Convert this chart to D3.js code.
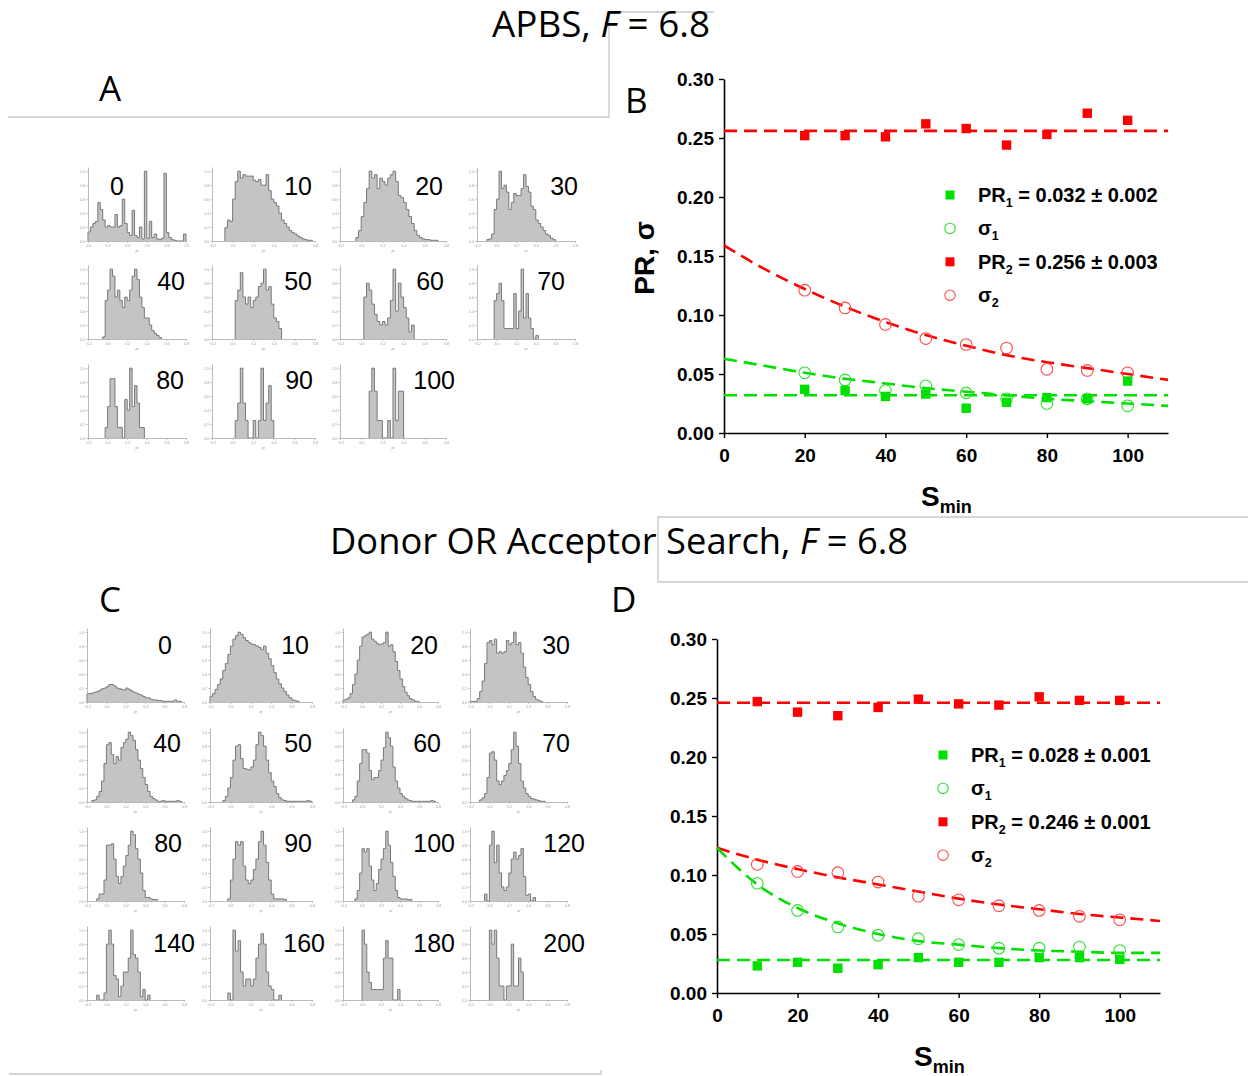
<!DOCTYPE html>
<html>
<head>
<meta charset="utf-8">
<script src="https://cdn.jsdelivr.net/npm/d3@7"></script>
<style>
  body { margin: 0; background: #fff; }
  svg { display: block; }
  .tick text { font-family: "Liberation Sans", Arial, sans-serif; }
</style>
</head>
<body>
<script>
// ---- panel B (APBS) ----
const sB = [20, 30, 40, 50, 60, 70, 80, 90, 100]
const pr1B = [0.037, 0.036, 0.031, 0.033, 0.021, 0.026, 0.030, 0.029, 0.044]
const sig1B = [0.051, 0.045, 0.036, 0.040, 0.034, 0.029, 0.025, 0.029, 0.023]
const pr2B = [0.252, 0.252, 0.251, 0.262, 0.258, 0.244, 0.253, 0.271, 0.265]
const sig2B = [0.121, 0.106, 0.092, 0.080, 0.075, 0.072, 0.054, 0.053, 0.051]
const fitS = [0, 10, 20, 30, 40, 50, 60, 70, 80, 90, 100, 110]
const fit1B = [0.063, 0.057, 0.051, 0.046, 0.042, 0.038, 0.035, 0.032, 0.029, 0.027, 0.025, 0.023]
const fit2B = [0.159, 0.139, 0.122, 0.107, 0.094, 0.083, 0.074, 0.066, 0.060, 0.055, 0.050, 0.045]
const levelsB = [0.032, 0.256]
const legendB = [["PR", "1", " = 0.032 \u00b1 0.002"], ["\u03c3", "1", ""], ["PR", "2", " = 0.256 \u00b1 0.003"], ["\u03c3", "2", ""]]

// ---- panel D (Donor OR Acceptor) ----
const sD = [10, 20, 30, 40, 50, 60, 70, 80, 90, 100]
const pr1D = [0.023, 0.026, 0.021, 0.024, 0.030, 0.026, 0.026, 0.030, 0.030, 0.0285]
const sig1D = [0.093, 0.070, 0.056, 0.049, 0.046, 0.041, 0.038, 0.038, 0.039, 0.036]
const pr2D = [0.247, 0.238, 0.235, 0.242, 0.249, 0.245, 0.244, 0.251, 0.248, 0.248]
const sig2D = [0.109, 0.103, 0.102, 0.094, 0.082, 0.079, 0.074, 0.070, 0.065, 0.062]
const fit1D = [0.123, 0.092, 0.072, 0.059, 0.050, 0.044, 0.041, 0.038, 0.036, 0.035, 0.034, 0.034]
const fit2D = [0.123, 0.113, 0.105, 0.098, 0.092, 0.086, 0.080, 0.075, 0.071, 0.067, 0.064, 0.061]
const levelsD = [0.028, 0.246]
const legendD = [["PR", "1", " = 0.028 \u00b1 0.001"], ["\u03c3", "1", ""], ["PR", "2", " = 0.246 \u00b1 0.001"], ["\u03c3", "2", ""]]

const sTicks = [0, 20, 40, 60, 80, 100]
const prTicks = [0, 0.05, 0.10, 0.15, 0.20, 0.25, 0.30]

// ---- histograms, 40 bins over the pr axis, normalised to 1 ----
const labelsA = ["0", "10", "20", "30", "40", "50", "60", "70", "80", "90", "100"]
const startA = [0, 5, 6, 4, 6, 9, 9, 7, 7, 9, 11]
const hA0 = [0.13, 0.2, 0.25, 0.28, 0.55, 0.45, 0.3, 0.2, 0.22, 0.2, 0.2, 0.38, 0.2, 0.22, 0.6, 0.25, 0.12, 0.08, 0.44, 0.08, 0.05, 0.2, 0.03, 1.0, 0.04, 0.28, 0.05, 0.1, 0.03, 0.02, 0.04, 0.97, 0.12, 0.05, 0.02, 0.01, 0, 0, 0, 0.1]
const hA10 = [0.19, 0.3, 0.28, 0.6, 0.85, 1.0, 0.9, 0.95, 0.93, 0.93, 0.93, 0.87, 0.85, 0.88, 0.8, 0.8, 0.95, 0.72, 0.6, 0.55, 0.5, 0.4, 0.3, 0.25, 0.2, 0.15, 0.12, 0.1, 0.07, 0.05, 0.03, 0.02, 0.01, 0.01]
const hA20 = [0.05, 0.15, 0.35, 0.55, 0.75, 1.0, 0.9, 0.95, 0.75, 0.9, 0.85, 0.8, 0.9, 0.95, 1.0, 0.85, 0.65, 0.62, 0.55, 0.45, 0.35, 0.25, 0.15, 0.08, 0.05, 0.03, 0.02, 0.02, 0.01, 0.01, 0.01]
const hA30 = [0.02, 0.03, 0.1, 0.45, 0.6, 1.0, 0.75, 0.8, 0.7, 0.45, 0.55, 0.68, 0.65, 0.65, 0.75, 0.95, 0.78, 0.7, 0.5, 0.45, 0.3, 0.25, 0.2, 0.15, 0.1, 0.08, 0.04, 0.02]
const hA40 = [0.03, 0.55, 0.7, 1.0, 0.9, 0.6, 0.7, 0.55, 0.45, 0.6, 0.55, 0.7, 0.9, 1.0, 0.85, 0.6, 0.45, 0.3, 0.3, 0.2, 0.12, 0.08, 0.05, 0.02]
const hA50 = [0.55, 0.7, 0.95, 0.6, 0.5, 0.6, 0.45, 0.55, 0.6, 0.75, 0.8, 1.0, 0.7, 0.75, 0.5, 0.3, 0.25, 0.15]
const hA60 = [0.6, 0.8, 0.7, 0.5, 0.35, 0.25, 0.2, 0.25, 0.2, 0.3, 0.55, 1.0, 0.4, 0.8, 0.6, 0.45, 0.3, 0.1, 0.2]
const hA70 = [0.55, 0.65, 0.8, 0.55, 0.15, 0.15, 0.15, 0.15, 0.65, 0.15, 0.4, 1.0, 0.3, 0.65, 0.3, 0.15, 0, 0.05]
const hA80 = [0.15, 0.45, 0.85, 0.85, 0.45, 0.15, 0.15, 0, 0.55, 0.4, 1.0, 0.45, 0.75, 0.5, 0.15, 0.15]
const hA90 = [0.25, 0.5, 1.0, 0.5, 0.25, 0, 0, 0.25, 0, 0.25, 1.0, 0.25, 0.5, 0.75, 0.25]
const hA100 = [0.67, 1.0, 0.67, 0.25, 0.25, 0, 0, 0.25, 0, 1.0, 0.25, 0.67, 0.67]

const labelsC = ["0", "10", "20", "30", "40", "50", "60", "70", "80", "90", "100", "120", "140", "160", "180", "200"]
const startC = [0, 0, 0, 0, 2, 5, 4, 4, 4, 7, 5, 6, 4, 7, 8, 8]
const hC0 = [0.12, 0.12, 0.13, 0.14, 0.15, 0.17, 0.19, 0.2, 0.22, 0.25, 0.25, 0.23, 0.2, 0.19, 0.18, 0.17, 0.2, 0.18, 0.16, 0.14, 0.13, 0.11, 0.1, 0.08, 0.06, 0.06, 0.04, 0.03, 0.03, 0.02, 0.02, 0.01, 0.01, 0.01, 0.01, 0.01, 0.03, 0.01, 0.01]
const hC10 = [0.08, 0.12, 0.18, 0.25, 0.33, 0.45, 0.55, 0.68, 0.8, 0.9, 0.95, 1.0, 0.97, 0.92, 0.88, 0.85, 0.83, 0.82, 0.8, 0.78, 0.75, 0.8, 0.7, 0.62, 0.52, 0.42, 0.33, 0.26, 0.2, 0.15, 0.1, 0.06, 0.03, 0.02, 0.01]
const hC20 = [0.03, 0.04, 0.06, 0.12, 0.25, 0.4, 0.6, 0.8, 0.93, 0.95, 0.97, 1.0, 0.9, 0.87, 0.84, 0.82, 0.83, 0.85, 1.0, 0.8, 0.82, 0.72, 0.58, 0.45, 0.33, 0.22, 0.14, 0.09, 0.05, 0.03, 0.01, 0.01]
const hC30 = [0.01, 0.01, 0.01, 0.05, 0.15, 0.3, 0.55, 0.85, 0.88, 0.82, 0.9, 0.7, 0.72, 0.7, 0.72, 0.88, 0.82, 0.85, 1.0, 0.82, 0.85, 0.7, 0.5, 0.35, 0.25, 0.15, 0.08, 0.04, 0.02, 0.01]
const hC40 = [0.02, 0.03, 0.08, 0.15, 0.3, 0.55, 0.82, 0.85, 0.68, 0.55, 0.65, 0.6, 0.78, 0.85, 0.9, 1.0, 0.95, 0.88, 0.75, 0.6, 0.48, 0.35, 0.25, 0.15, 0.08, 0.05, 0.03, 0.01, 0.01, 0.02, 0.01, 0.01, 0.01, 0.01, 0.01, 0.02, 0.01]
const hC50 = [0.02, 0.08, 0.2, 0.35, 0.6, 0.8, 0.82, 0.62, 0.48, 0.47, 0.46, 0.5, 0.6, 0.82, 1.0, 0.95, 0.8, 0.6, 0.42, 0.3, 0.22, 0.12, 0.06, 0.03, 0.02, 0.01, 0.01, 0.01, 0.01, 0.01, 0.01, 0.01, 0.01, 0.02, 0.01]
const hC60 = [0.03, 0.08, 0.3, 0.55, 0.75, 0.75, 0.7, 0.45, 0.32, 0.35, 0.35, 0.45, 0.6, 0.78, 1.0, 0.92, 0.8, 0.5, 0.3, 0.2, 0.12, 0.08, 0.05, 0.03, 0.02, 0.01, 0.01, 0.01, 0.01, 0.01, 0.01, 0.01, 0.01, 0.02, 0.01]
const hC70 = [0.03, 0.06, 0.12, 0.35, 0.7, 0.72, 0.6, 0.3, 0.25, 0.3, 0.38, 0.45, 0.55, 0.75, 1.0, 0.8, 0.55, 0.3, 0.2, 0.12, 0.08, 0.05, 0.04, 0.03, 0.02, 0.01, 0.01]
const hC80 = [0.03, 0.1, 0.1, 0.3, 0.8, 0.8, 0.82, 0.6, 0.35, 0.25, 0.35, 0.5, 0.65, 0.8, 1.0, 0.95, 0.75, 0.6, 0.4, 0.15, 0.05, 0.05, 0.03, 0.02, 0.02]
const hC90 = [0.03, 0.3, 0.6, 0.85, 0.8, 0.85, 0.5, 0.3, 0.25, 0.3, 0.45, 0.6, 0.85, 1.0, 0.8, 0.55, 0.3, 0.1, 0.03, 0.03, 0.03, 0.03, 0.02]
const hC100 = [0.03, 0.15, 0.4, 0.75, 0.7, 0.75, 0.5, 0.3, 0.15, 0.25, 0.45, 0.6, 0.75, 1.0, 0.8, 0.55, 0.35, 0.15, 0.05, 0.03, 0.03, 0.03, 0.02, 0.02]
const hC120 = [0.1, 0, 0.8, 1.0, 0.55, 0.8, 0.4, 0.2, 0.15, 0.2, 0.4, 0.6, 0.7, 0.6, 0.65, 0.75, 0.35, 0.08, 0.1, 0, 0.05]
const hC140 = [0.07, 0, 0, 0.1, 0.8, 1.0, 0.8, 0.35, 0.3, 0.05, 0.2, 0.4, 0.4, 0.6, 1.0, 0.65, 0.6, 0.4, 0.05, 0.15, 0, 0.07]
const hC160 = [0.1, 0, 1.0, 0.7, 0.85, 0.4, 0.2, 0.3, 0.3, 0.2, 0.3, 0.6, 0.8, 0.95, 0.8, 0.4, 0.2, 0.15, 0, 0, 0.07]
const hC180 = [1.0, 0.8, 0.4, 0.25, 0.15, 0.15, 0.15, 0.15, 0.15, 0.6, 0.85, 0.6, 0.6, 0, 0, 0.15]
const hC200 = [1.0, 0.8, 1.0, 0.6, 0.2, 0.2, 0, 0.2, 0.2, 0.8, 0.2, 0.2, 0.6, 0.4]

const histsA = [hA0, hA10, hA20, hA30, hA40, hA50, hA60, hA70, hA80, hA90, hA100]
const histsC = [hC0, hC10, hC20, hC30, hC40, hC50, hC60, hC70, hC80, hC90, hC100, hC120, hC140, hC160, hC180, hC200]

// ---- layout ----
const green = "#00e000", red = "#ff0000"
const gridA = { cols: [88, 212, 340, 477], widths: [98, 103, 106, 98], rows: [241, 339, 438], labelRight: [124, 312, 443, 578, 185, 312, 444, 565, 184, 313, 455], labelBase: [195, 290, 389] }
const gridC = { cols: [87, 210, 343, 470], widths: [97, 102, 95, 97], rows: [702, 802, 901, 1000], labelRight: [172, 309, 438, 570, 181, 312, 441, 570, 182, 312, 455, 585, 195, 325, 455, 585], labelBase: [654, 752, 852, 952] }
const histH = 74

const svg = d3.select("body").append("svg")
              .attr("width", 1248)
              .attr("height", 1076)

// slide frame lines
const frame = svg.append("g").attr("fill", "none").attr("stroke", "#c8c8c8").attr("stroke-width", 1.3)
frame.append("path").attr("d", "M8,117H609V12H714")
frame.append("path").attr("d", "M1248,517H658V582H1248")
frame.append("path").attr("d", "M9,1074H601V1070")

function title(x, baseline, len, before, after) {
    const t = svg.append("text")
                 .attr("x", x).attr("y", baseline)
                 .attr("font-family", "'Open Sans', 'Noto Sans', sans-serif")
                 .attr("font-size", 36)
                 .attr("textLength", len)
                 .attr("lengthAdjust", "spacingAndGlyphs")
    t.append("tspan").text(before)
    t.append("tspan").attr("font-style", "italic").text("F")
    t.append("tspan").text(after)
}
title(492, 37, 218, "APBS, ", " = 6.8")
title(330, 554, 578, "Donor OR Acceptor Search, ", " = 6.8")

function letter(x, baseline, s) {
    svg.append("text").attr("x", x).attr("y", baseline)
       .attr("font-family", "'Open Sans', 'Noto Sans', sans-serif")
       .attr("font-size", 35)
       .text(s)
}
letter(99, 101, "A")
letter(625, 113, "B")
letter(99, 612, "C")
letter(611, 612, "D")

// ---- histogram small multiples ----
function drawHist(left, baseline, w, values, start, domain) {
    const g = svg.append("g").attr("transform", `translate(${left},${baseline - histH})`)
    const xBin = d3.scaleLinear().domain([0, 40]).range([0, w])
    const xVal = d3.scaleLinear().domain(domain).range([0, w])
    const y = d3.scaleLinear().domain([0, 1.06]).range([histH, 0])

    const pts = [[start, 0]].concat(values.map((v, k) => [start + k, v]))
    pts.push([start + values.length, values[values.length - 1]])
    pts.push([start + values.length, 0])

    g.append("path")
     .datum(pts)
     .attr("fill", "#c4c4c4")
     .attr("d", d3.area().curve(d3.curveStepAfter).x(d => xBin(d[0])).y0(histH).y1(d => y(d[1])))
    g.append("path")
     .datum(pts)
     .attr("fill", "none")
     .attr("stroke", "#787878")
     .attr("stroke-width", 1)
     .attr("d", d3.line().curve(d3.curveStepAfter).x(d => xBin(d[0])).y(d => y(d[1])))

    const ya = g.append("g").call(d3.axisLeft(y).tickValues([0, 0.2, 0.4, 0.6, 0.8, 1.0]).tickFormat(d3.format(".1f")).tickSize(2).tickSizeOuter(0))
    const xa = g.append("g").attr("transform", `translate(0,${histH})`)
                .call(d3.axisBottom(xVal).ticks(6).tickFormat(d3.format(".1f")).tickSize(2).tickSizeOuter(0))
    ;[ya, xa].forEach(a => {
        a.select(".domain").attr("stroke", "#a8a8a8").attr("stroke-width", 0.8)
        a.selectAll(".tick line").attr("stroke", "#a8a8a8").attr("stroke-width", 0.6)
        a.selectAll(".tick text").attr("font-size", 3.6).attr("fill", "#999")
        a.attr("font-size", 3.6)
    })
    ya.selectAll(".tick text").attr("x", -3)
    xa.selectAll(".tick text").attr("y", 3.5)
    g.append("text").attr("x", w / 2).attr("y", histH + 11)
     .attr("text-anchor", "middle").attr("font-size", 3.6).attr("fill", "#999")
     .attr("font-family", "'Liberation Sans', Arial, sans-serif")
     .text("pr")
}

function drawGrid(grid, hists, starts, labels) {
    hists.forEach((h, i) => {
        const c = i % 4, r = Math.floor(i / 4)
        const dom = (grid === gridA && i === 0) ? [0, 1.0] : [-0.2, 0.8]
        drawHist(grid.cols[c], grid.rows[r], grid.widths[c], h, starts[i], dom)
        svg.append("text")
           .attr("x", grid.labelRight[i]).attr("y", grid.labelBase[r])
           .attr("text-anchor", "end")
           .attr("font-family", "'Liberation Sans', Arial, sans-serif")
           .attr("font-size", 25)
           .text(labels[i])
    })
}
drawGrid(gridA, histsA, startA, labelsA)
drawGrid(gridC, histsC, startC, labelsC)

// ---- PR / sigma panels ----
function drawScatter(cfg) {
    const x = d3.scaleLinear().domain([0, 110]).range([cfg.ox, cfg.right])
    const y = d3.scaleLinear().domain([0, 0.30]).range([cfg.oy, cfg.top])
    const g = svg.append("g")

    const ya = g.append("g").attr("transform", `translate(${cfg.ox},0)`)
                .call(d3.axisLeft(y).tickValues(prTicks).tickFormat(d3.format(".2f")).tickSize(5).tickPadding(5).tickSizeOuter(0))
    const xa = g.append("g").attr("transform", `translate(0,${cfg.oy})`)
                .call(d3.axisBottom(x).tickValues(sTicks).tickSize(5).tickPadding(11).tickSizeOuter(0))
    ;[ya, xa].forEach(a => {
        a.select(".domain").attr("stroke", "#000").attr("stroke-width", 1.6)
        a.selectAll(".tick line").attr("stroke", "#000").attr("stroke-width", 1.4)
        a.selectAll(".tick text").attr("font-size", 19).attr("font-weight", "bold").attr("fill", "#000")
    })

    const fitLine = d3.line().curve(d3.curveMonotoneX).x((d, i) => x(fitS[i])).y(d => y(d))
    const dash = (color, d) => g.append("path").attr("d", d).attr("fill", "none")
                                .attr("stroke", color).attr("stroke-width", 2.6)
                                .attr("stroke-dasharray", "13,7")
    dash(red, fitLine(cfg.fit2))
    dash(green, fitLine(cfg.fit1))
    dash(green, `M${x(0)},${y(cfg.levels[0])}H${x(110)}`)
    dash(red, `M${x(0)},${y(cfg.levels[1])}H${x(110)}`)

    const squares = (vals, color) => g.append("g").selectAll("rect").data(vals).join("rect")
        .attr("x", (d, i) => x(cfg.s[i]) - 4.7).attr("y", d => y(d) - 4.7)
        .attr("width", 9.4).attr("height", 9.4).attr("fill", color)
    const circles = (vals, color) => g.append("g").selectAll("circle").data(vals).join("circle")
        .attr("cx", (d, i) => x(cfg.s[i])).attr("cy", d => y(d)).attr("r", 5.8)
        .attr("fill", "none").attr("stroke", color).attr("stroke-width", 1.1)
    circles(cfg.sig2, "#ff4a4a")
    circles(cfg.sig1, "#2fe02f")
    squares(cfg.pr2, red)
    squares(cfg.pr1, green)

    // legend
    const kinds = [["sq", green], ["ci", "#2fe02f"], ["sq", red], ["ci", "#ff4a4a"]]
    cfg.legend.forEach((entry, i) => {
        const cy = cfg.oy - 238 + i * 33.4
        const mx = cfg.ox + 226
        if (kinds[i][0] === "sq") {
            g.append("rect").attr("x", mx - 4.5).attr("y", cy - 4.5).attr("width", 9).attr("height", 9).attr("fill", kinds[i][1])
        } else {
            g.append("circle").attr("cx", mx).attr("cy", cy).attr("r", 5.2).attr("fill", "none")
             .attr("stroke", kinds[i][1]).attr("stroke-width", 1.1)
        }
        const t = g.append("text").attr("x", cfg.ox + 254).attr("y", cy + 7)
                   .attr("font-family", "'Liberation Sans', Arial, sans-serif")
                   .attr("font-weight", "bold").attr("font-size", 20)
        t.append("tspan").text(entry[0])
        t.append("tspan").attr("font-size", 12.5).attr("dy", 5).text(entry[1])
        if (entry[2]) t.append("tspan").attr("dy", -5).text(entry[2])
    })

    // S_min label
    const sl = g.append("text").attr("x", cfg.ox + 197).attr("y", cfg.oy + 73)
                .attr("font-family", "'Liberation Sans', Arial, sans-serif").attr("font-weight", "bold")
    sl.append("tspan").attr("font-size", 28).text("S")
    sl.append("tspan").attr("font-size", 18).attr("dy", 7).text("min")

    if (cfg.yLabel) {
        g.append("text")
         .attr("transform", `translate(${cfg.ox - 70},${(cfg.oy + cfg.top) / 2 + 2}) rotate(-90)`)
         .attr("text-anchor", "middle")
         .attr("font-family", "'Liberation Sans', Arial, sans-serif").attr("font-weight", "bold")
         .attr("font-size", 28)
         .text("PR, \u03c3")
    }
}

drawScatter({ ox: 724, right: 1168, oy: 433, top: 79, s: sB, pr1: pr1B, sig1: sig1B, pr2: pr2B, sig2: sig2B,
              fit1: fit1B, fit2: fit2B, levels: levelsB, legend: legendB, yLabel: true })
drawScatter({ ox: 717, right: 1160, oy: 993, top: 639, s: sD, pr1: pr1D, sig1: sig1D, pr2: pr2D, sig2: sig2D,
              fit1: fit1D, fit2: fit2D, levels: levelsD, legend: legendD, yLabel: false })
</script>
</body>
</html>
